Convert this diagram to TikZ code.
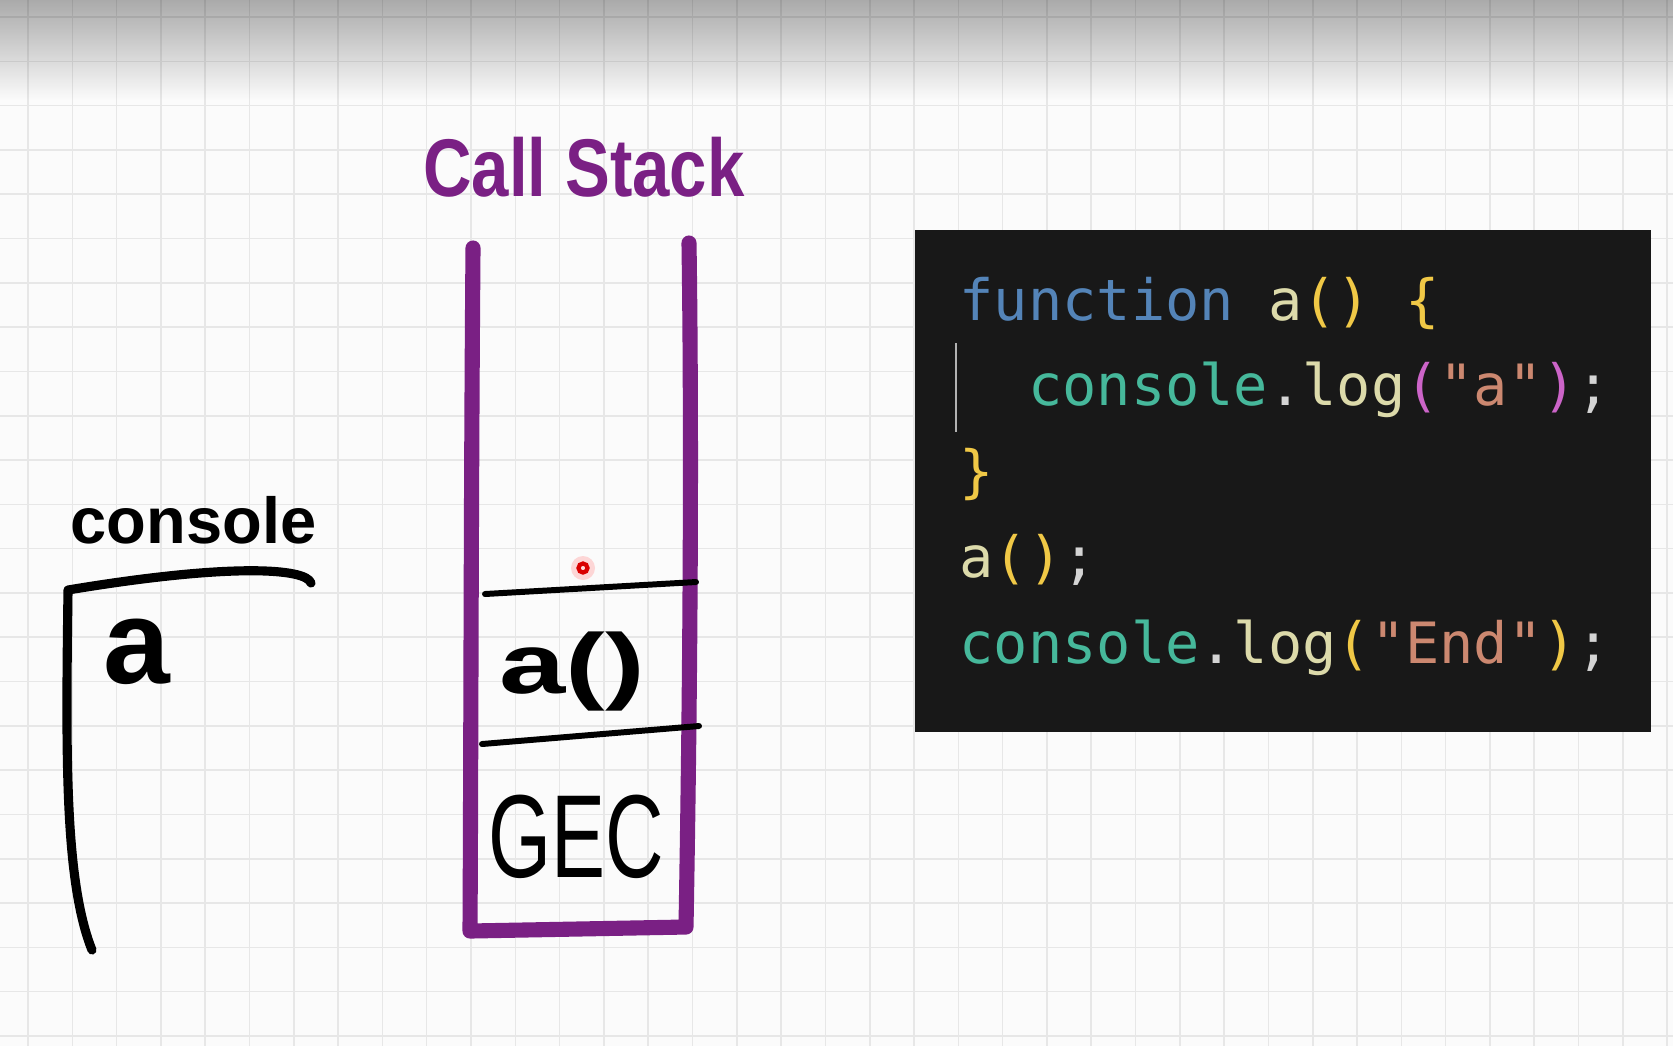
\documentclass[tikz,border=0pt]{standalone}
\usepackage{fontspec}
\usepackage{graphicx}
\setmainfont{Liberation Sans}
\newfontfamily\codefont{DejaVu Sans Mono}
\usetikzlibrary{fadings}

\definecolor{paper}{RGB}{251,251,251}
\definecolor{gridgray}{RGB}{231,231,231}
\definecolor{stackpurple}{RGB}{122,32,132}
\definecolor{codebg}{RGB}{24,24,24}
\definecolor{codekw}{RGB}{84,132,184}
\definecolor{codefn}{RGB}{220,218,170}
\definecolor{codegold}{RGB}{240,200,70}
\definecolor{codemag}{RGB}{204,100,200}
\definecolor{codeteal}{RGB}{70,184,155}
\definecolor{codestr}{RGB}{204,136,112}
\definecolor{codepunct}{RGB}{212,212,212}

\tikzfading[name=topshade, top color=transparent!0, bottom color=transparent!100]

\newcommand{\cc}[2]{\textcolor{#1}{#2}}

\begin{document}
\begin{tikzpicture}[x=0.1mm, y=-0.1mm,
    gridline/.style={gridgray, line width=0.45pt},
    wall/.style={stackpurple, line width=4.3pt, line cap=round, line join=round},
    divider/.style={black, line width=1.7pt, line cap=round},
    inkline/.style={black, line width=2.6pt, line cap=round, line join=round},
    handtext/.style={inner sep=0pt, anchor=base},
    codeline/.style={inner sep=0pt, anchor=base west, font=\codefont\fontsize{16.2}{19}\selectfont}]
  \useasboundingbox (0,0) rectangle (1673,1046);

  % paper and grid
  \fill[paper] (0,0) rectangle (1673,1046);
  \foreach \gx in {0,...,37}
    \draw[gridline] ({28+44.3*\gx},0) -- ({28+44.3*\gx},1046);
  \foreach \gy in {0,...,23}
    \draw[gridline] (0,{17+44.3*\gy}) -- (1673,{17+44.3*\gy});
  \fill[black, opacity=0.32, path fading=topshade] (0,0) rectangle (1673,100);

  % call stack
  \node[handtext, text=stackpurple, font=\bfseries\fontsize{23.3}{28}\selectfont] (title) at (584,196) {\scalebox{0.82}[1]{Call Stack}};
  \draw[wall] (473,248) .. controls (471,500) and (471,750) .. (470,931)
    -- (686,927) .. controls (690,700) and (692,450) .. (689,243);
  \draw[divider] (485,594) -- (696,582);
  \draw[divider] (482,744) -- (699,726);
  \node[handtext, font=\bfseries\fontsize{24.2}{29}\selectfont] (framea) at (572,693) {\scalebox{1.4}[1]{a()}};
  \node[handtext, font=\fontsize{32}{38}\selectfont] (framegec) at (576,877) {\scalebox{0.72}[1.05]{GEC}};

  % pointer dot
  \fill[red!30, opacity=0.5] (583,568) circle (12);
  \draw[red!85!black, fill=pink!60, line width=1.2pt] (583,568) circle (4.5);

  % console
  \node[handtext, anchor=base west, font=\bfseries\fontsize{18.5}{22}\selectfont] (consolelbl) at (70,543) {console};
  \draw[inkline] (311,583) .. controls (306,568) and (230,563) .. (68,590)
    .. controls (66,750) and (64,880) .. (92,950);
  \node[handtext, font=\bfseries\fontsize{34.1}{40}\selectfont] (outa) at (137,683) {a};

  % code
  \fill[codebg] (915,230) rectangle (1651,732);
  \draw[gray!60, line width=0.5pt] (956,343) -- (956,432);
  \node[codeline] (line1) at (959,320) {\cc{codekw}{function} \cc{codefn}{a}\cc{codegold}{() \{}};
  \node[codeline] (line2) at (959,405) {\ \ \cc{codeteal}{console}\cc{codepunct}{.}\cc{codefn}{log}\cc{codemag}{(}\cc{codestr}{"a"}\cc{codemag}{)}\cc{codepunct}{;}};
  \node[codeline] (line3) at (959,491) {\cc{codegold}{\}}};
  \node[codeline] (line4) at (959,577) {\cc{codefn}{a}\cc{codegold}{()}\cc{codepunct}{;}};
  \node[codeline] (line5) at (959,663) {\cc{codeteal}{console}\cc{codepunct}{.}\cc{codefn}{log}\cc{codegold}{(}\cc{codestr}{"End"}\cc{codegold}{)}\cc{codepunct}{;}};
\end{tikzpicture}
\end{document}
